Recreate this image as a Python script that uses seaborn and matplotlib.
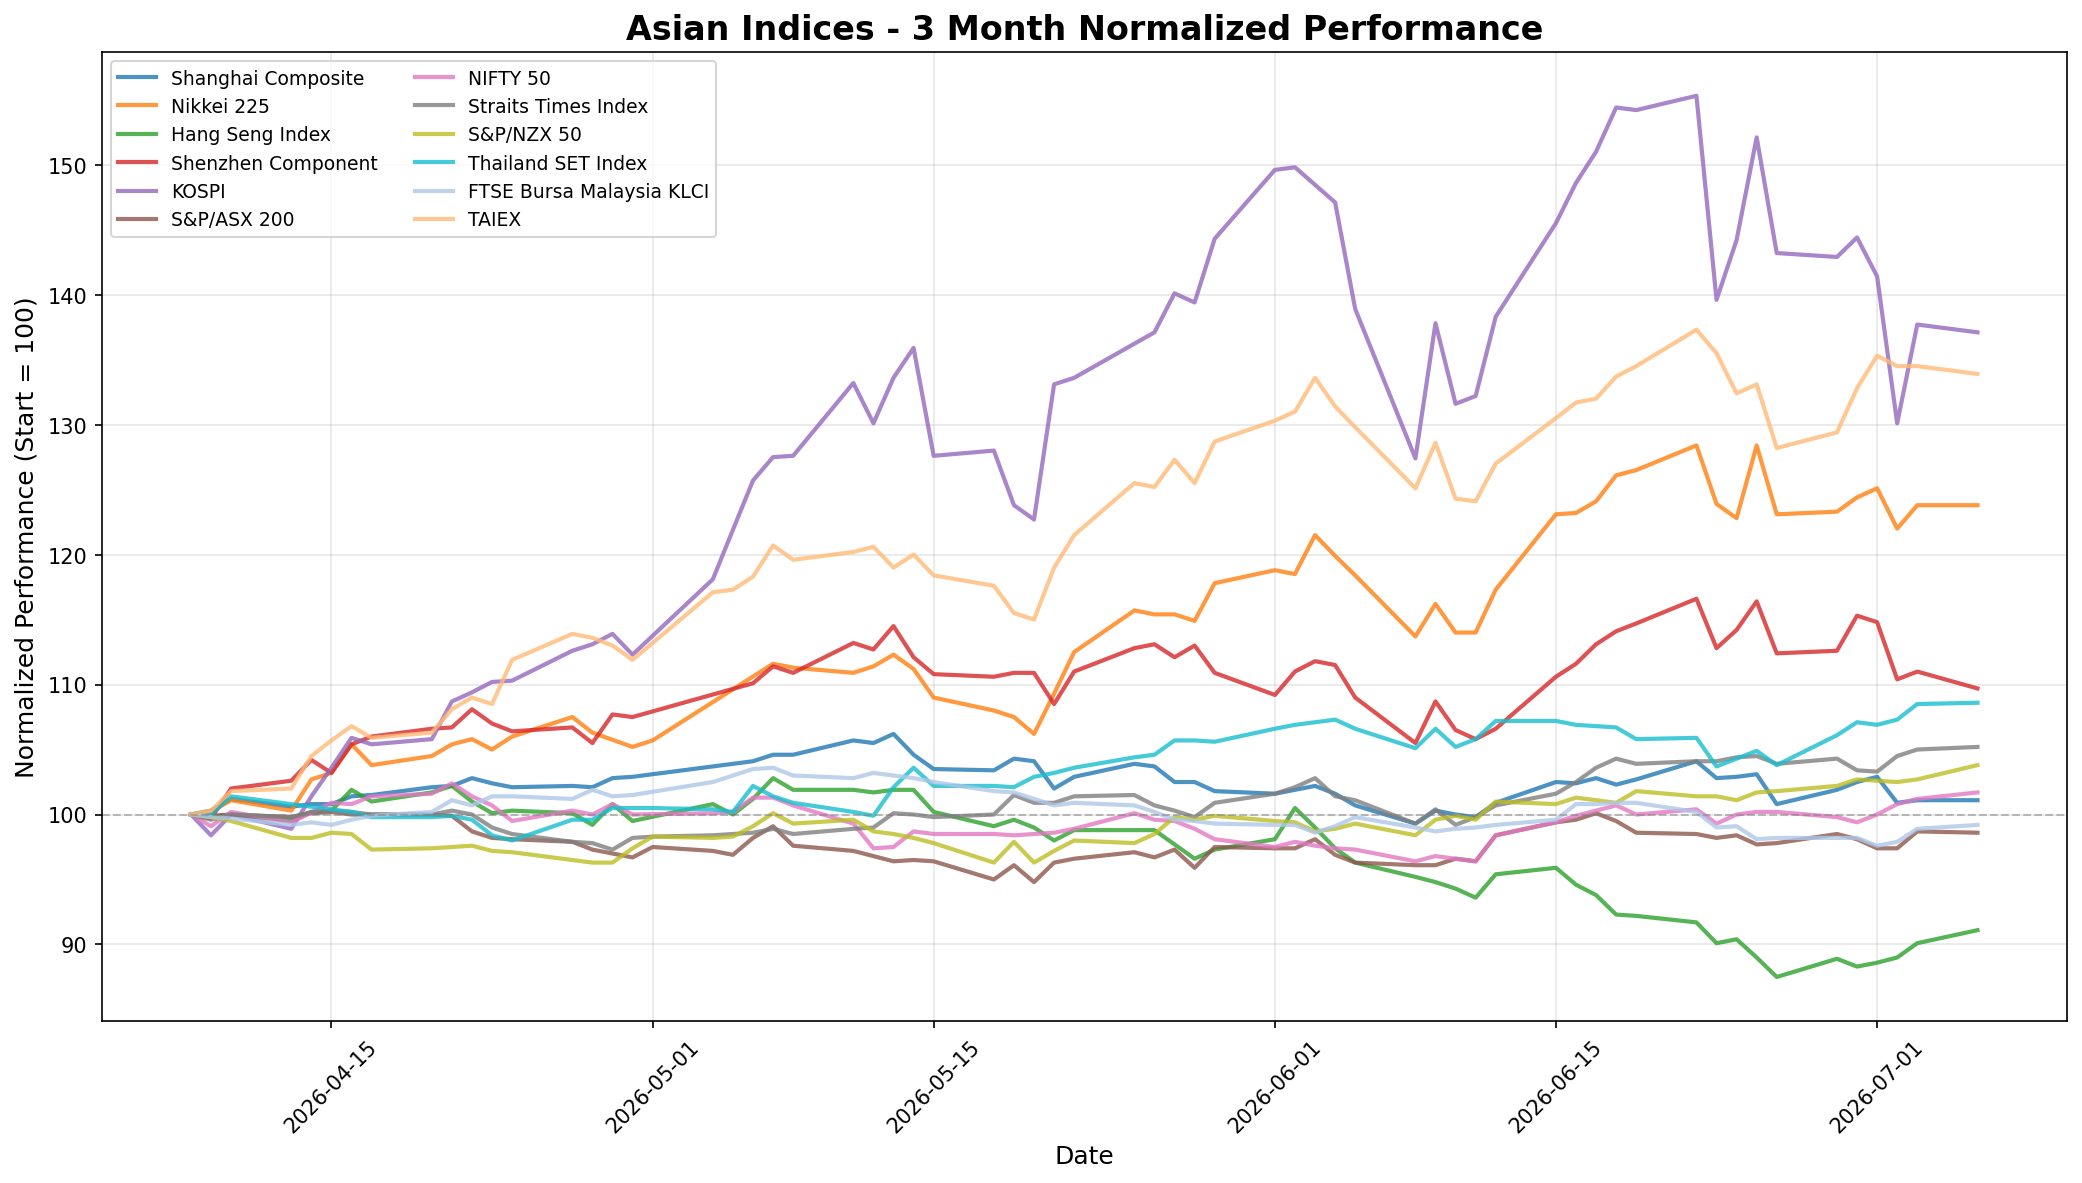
import numpy as np
import pandas as pd
import matplotlib.pyplot as plt
import matplotlib.dates as mdates
import seaborn as sns

nan = np.nan

# business days 2026-04-08 .. 2026-07-06 (64 sessions), nan = market holiday
dates = pd.bdate_range('2026-04-08', '2026-07-06')

shanghai = [100.0, 100.3, 101.2, 100.6, 100.8, 100.8, 101.4, 101.5, 102.1, 102.2, 102.8, 102.4, 102.1,
            102.2, 102.1, 102.8, 102.9, nan, nan, nan, 104.1, 104.6, 104.6, 105.7, 105.5, 106.2, 104.6,
            103.5, 103.4, 104.3, 104.1, 102.0, 102.9, 103.9, 103.7, 102.5, 102.5, 101.8, 101.6, 101.9,
            102.2, 101.6, 100.7, 99.3, 100.3, 100.0, 99.8, 100.9, 102.5, 102.4, 102.8, 102.3, 102.7,
            104.1, 102.8, 102.9, 103.1, 100.8, 101.9, 102.5, 102.9, 100.9, 101.1, 101.1]
nikkei = [100.0, 100.2, 101.1, 100.3, 102.7, 103.2, 105.4, 103.8, 104.5, 105.4, 105.8, 105.0, 106.0,
          107.5, 106.3, nan, 105.2, 105.7, nan, nan, nan, 111.6, 111.3, 110.9, 111.4, 112.3, 111.2,
          109.0, 108.0, 107.5, 106.2, 109.3, 112.5, 115.7, 115.4, 115.4, 114.9, 117.8, 118.8, 118.5,
          121.5, 119.9, 118.4, 113.7, 116.2, 114.0, 114.0, 117.3, 123.1, 123.2, 124.1, 126.1, 126.5,
          128.4, 123.9, 122.8, 128.4, 123.1, 123.3, 124.4, 125.1, 122.0, 123.8, 123.8]
hang_seng = [100.0, 99.8, 100.0, 99.5, 100.2, 100.3, 101.9, 101.0, 101.7, 102.2, 101.0, 100.1, 100.3,
             100.1, 99.2, 100.8, 99.5, nan, 100.8, 100.0, 101.2, 102.8, 101.9, 101.9, 101.7, 101.9,
             101.9, 100.2, 99.1, 99.6, 99.0, 98.0, 98.8, 98.8, 98.8, 97.7, 96.6, 97.3, 98.1, 100.5,
             99.0, 97.4, 96.3, 95.2, 94.8, 94.3, 93.6, 95.4, 95.9, 94.6, 93.8, 92.3, 92.2, 91.7, 90.1,
             90.4, 89.0, 87.5, 88.9, 88.3, 88.6, 89.0, 90.1, 91.1]
shenzhen = [100.0, 99.7, 102.0, 102.6, 104.2, 103.2, 105.4, 106.0, 106.6, 106.7, 108.1, 107.0, 106.4,
            106.7, 105.5, 107.7, 107.5, nan, nan, nan, 110.1, 111.4, 110.9, 113.2, 112.7, 114.5, 112.1,
            110.8, 110.6, 110.9, 110.9, 108.5, 111.0, 112.8, 113.1, 112.1, 113.0, 110.9, 109.2, 111.0,
            111.8, 111.5, 109.0, 105.5, 108.7, 106.5, 105.8, 106.6, 110.6, 111.6, 113.1, 114.1, 114.7,
            116.6, 112.8, 114.2, 116.4, 112.4, 112.6, 115.3, 114.8, 110.4, 111.0, 109.7]
kospi = [100.0, 98.4, 100.0, 98.9, 101.4, 103.6, 105.9, 105.4, 105.8, 108.7, 109.4, 110.2, 110.3,
         112.6, 113.1, 113.9, 112.3, nan, 118.1, nan, 125.7, 127.5, 127.6, 133.2, 130.1, 133.6, 135.9,
         127.6, 128.0, 123.8, 122.7, 133.1, 133.6, nan, 137.1, 140.1, 139.4, 144.3, 149.6, 149.8,
         nan, 147.1, 138.9, 127.4, 137.8, 131.6, 132.2, 138.3, 145.5, 148.6, 151.0, 154.4, 154.2,
         155.3, 139.6, 144.2, 152.1, 143.2, 142.9, 144.4, 141.4, 130.1, 137.7, 137.1]
asx200 = [100.0, 99.9, 100.0, 99.8, 100.1, 100.2, 100.0, 100.0, 100.0, 99.9, 98.7, 98.2, 98.1,
          97.9, 97.3, 97.0, 96.7, 97.5, 97.2, 96.9, 98.2, 99.1, 97.6, 97.2, 96.8, 96.4, 96.5, 96.4,
          95.0, 96.1, 94.8, 96.3, 96.6, 97.1, 96.7, 97.3, 95.9, 97.5, 97.4, 97.4, 98.1, 96.9, 96.3,
          96.1, 96.1, 96.6, 96.4, 98.4, 99.4, 99.6, 100.1, 99.5, 98.6, 98.5, 98.2, 98.4, 97.7, 97.8,
          98.5, 98.1, 97.4, 97.4, 98.7, 98.6]
nifty = [100.0, 99.1, 100.2, 99.4, nan, 100.9, 100.8, 101.4, 101.6, 102.4, 101.4, 100.7, 99.5,
         100.3, 100.0, 100.8, 100.0, nan, 100.1, 100.2, 101.3, 101.3, 100.7, 99.3, 97.4, 97.5, 98.7,
         98.5, 98.5, 98.4, 98.5, 98.6, 98.9, 100.1, 99.6, 99.5, 98.9, 98.1, 97.5, 97.9, 97.6, 97.4,
         97.3, 96.4, 96.8, 96.6, 96.4, 98.4, 99.4, 99.9, 100.3, 100.7, 100.0, 100.4, 99.3, 100.0,
         100.2, 100.2, 99.8, 99.4, 100.0, 100.8, 101.2, 101.7]
straits = [100.0, 99.6, 100.0, 99.8, 100.2, 100.3, 100.2, 100.0, 100.0, 100.3, 100.0, 99.0, 98.5,
           97.9, 97.8, 97.3, 98.2, 98.3, 98.4, 98.5, 98.6, 98.9, 98.5, 98.9, 99.0, 100.1, 100.0, 99.8,
           100.0, 101.5, 100.9, 100.9, 101.4, 101.5, 100.7, 100.3, 99.8, 100.9, 101.6, 102.1, 102.8,
           101.4, 101.1, 99.3, 100.4, 99.2, 99.8, 100.7, 101.6, 102.5, 103.6, 104.3, 103.9, 104.1,
           104.1, 104.4, 104.5, 103.9, 104.3, 103.4, 103.3, 104.5, 105.0, 105.2]
nzx50 = [100.0, 99.8, 99.5, 98.2, 98.2, 98.6, 98.5, 97.3, 97.4, 97.5, 97.6, 97.2, 97.1, 96.5, 96.3,
         96.3, 97.4, 98.3, 98.2, 98.3, 99.1, 100.1, 99.3, 99.6, 98.7, 98.5, 98.2, 97.8, 96.3, 97.9,
         96.3, 97.2, 98.0, 97.8, 98.5, 99.8, 99.6, 99.9, 99.5, 99.4, 98.7, 98.9, 99.3, 98.4, 99.6,
         99.9, 99.6, 101.0, 100.8, 101.3, 101.1, 100.9, 101.8, 101.4, 101.4, 101.1, 101.7, 101.8,
         102.2, 102.7, 102.6, 102.5, 102.7, 103.8]
thailand = [100.0, 100.0, 101.4, 100.8, 100.6, 100.4, 100.2, 99.8, 99.8, 99.9, 99.6, 98.4, 98.0,
            99.6, 99.6, 100.5, 100.5, 100.5, 100.4, 100.2, 102.2, 101.4, 100.9, 100.2, 99.9, 102.1,
            103.6, 102.2, 102.2, 102.1, 102.9, 103.2, 103.6, 104.4, 104.6, 105.7, 105.7, 105.6, 106.6,
            106.9, 107.1, 107.3, 106.6, 105.1, 106.6, 105.2, 105.8, 107.2, 107.2, 106.9, 106.8, 106.7,
            105.8, 105.9, 103.7, 104.3, 104.9, 103.8, 106.1, 107.1, 106.9, 107.3, 108.5, 108.6]
klci = [100.0, 99.8, 99.7, 99.2, 99.4, 99.2, 99.6, 99.9, 100.2, 101.1, 100.7, 101.4, 101.4, 101.2,
        101.9, 101.4, 101.5, nan, 102.5, 103.0, 103.5, 103.6, 103.0, 102.8, 103.2, 103.0, 102.8,
        102.5, 101.8, 101.7, 101.2, 100.7, 100.9, 100.7, 100.2, 99.6, 99.5, 99.3, 99.2, 99.2, 98.6,
        99.1, 99.8, 99.0, 98.7, 98.9, 99.0, 99.2, 99.6, 100.8, 100.8, 100.9, 100.9, 100.2, 99.0,
        99.1, 98.1, 98.2, 98.2, 98.2, 97.6, 97.9, 98.9, 99.2]
taiex = [100.0, 100.3, 101.8, 102.0, 104.5, 105.7, 106.8, 105.9, 106.3, 108.1, 109.0, 108.5, 111.9,
         113.9, 113.6, 113.0, 111.9, nan, 117.1, 117.3, 118.3, 120.7, 119.6, 120.2, 120.6, 119.0,
         120.0, 118.4, 117.6, 115.5, 115.0, 119.0, 121.5, 125.5, 125.2, 127.3, 125.5, 128.7, 130.3,
         131.0, 133.6, 131.4, 129.8, 125.1, 128.6, 124.3, 124.1, 127.0, 130.5, 131.7, 132.0, 133.7,
         134.5, 137.3, 135.5, 132.4, 133.1, 128.2, 129.4, 132.8, 135.3, 134.5, 134.5, 133.9]

names = ['Shanghai Composite', 'Nikkei 225', 'Hang Seng Index', 'Shenzhen Component', 'KOSPI',
         'S&P/ASX 200', 'NIFTY 50', 'Straits Times Index', 'S&P/NZX 50', 'Thailand SET Index',
         'FTSE Bursa Malaysia KLCI', 'TAIEX']
values = [shanghai, nikkei, hang_seng, shenzhen, kospi, asx200, nifty, straits, nzx50, thailand,
          klci, taiex]
colors = list(sns.color_palette('tab10')) + ['#aec7e8', '#ffbb78']

frames = []
for name, vals in zip(names, values):
    frames.append(pd.DataFrame({'Date': dates, 'Value': vals, 'Index': name}).dropna())
df = pd.concat(frames, ignore_index=True)

fig, ax = plt.subplots(figsize=(13.88, 7.893), dpi=150)
sns.lineplot(data=df, x='Date', y='Value', hue='Index', hue_order=names,
             palette=colors, linewidth=2, alpha=0.8, ax=ax)
ax.axhline(100, color='gray', linestyle='--', linewidth=1, alpha=0.5)

ax.set_title('Asian Indices - 3 Month Normalized Performance', fontsize=16, fontweight='bold')
ax.set_xlabel('Date', fontsize=12)
ax.set_ylabel('Normalized Performance (Start = 100)', fontsize=12)
ax.xaxis.set_major_locator(mdates.DayLocator(bymonthday=[1, 15]))
ax.xaxis.set_major_formatter(mdates.DateFormatter('%Y-%m-%d'))
plt.setp(ax.get_xticklabels(), rotation=45)
ax.grid(True, alpha=0.3)
ax.legend(loc='upper left', ncol=2, fontsize=9)

fig.subplots_adjust(left=0.0488, right=0.9927, top=0.9555, bottom=0.1368)
plt.savefig('out.png', dpi=150)
